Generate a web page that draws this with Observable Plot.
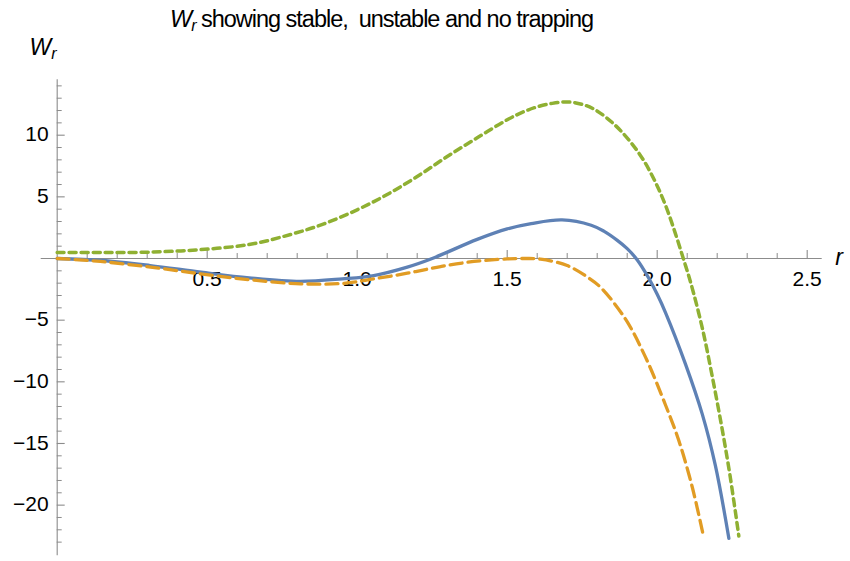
<!DOCTYPE html>
<html>
<head>
<meta charset="utf-8">
<script src="https://cdn.jsdelivr.net/npm/d3@7"></script>
<script src="https://cdn.jsdelivr.net/npm/@observablehq/plot@0.6"></script>
<style>
  body { margin: 0; background: #fff; }
  #wrap { width: 850px; height: 561px; }
  svg text { white-space: pre; }
</style>
</head>
<body>
<div id="wrap"></div>
<script>
// ---- data ----
const rStable = [0, 0.15, 0.31, 0.48, 0.64, 0.81, 0.95, 1.055, 1.167, 1.25, 1.4, 1.5, 1.58, 1.683, 1.78, 1.822, 1.867, 1.9, 1.933, 1.972, 2.0, 2.028, 2.094, 2.15, 2.194, 2.239];
const wStable = [0, -0.16, -0.57, -1.11, -1.57, -1.86, -1.65, -1.38, -0.7, 0.0, 1.55, 2.4, 2.83, 3.13, 2.7, 2.22, 1.47, 0.8, -0.1, -1.6, -2.9, -4.4, -8.54, -12.6, -16.8, -22.7];

const rUnstable = [0, 0.144, 0.311, 0.478, 0.644, 0.811, 0.95, 1.055, 1.167, 1.278, 1.389, 1.5, 1.555, 1.611, 1.7, 1.77, 1.811, 1.894, 1.961, 2.028, 2.072, 2.117, 2.155];
const wUnstable = [0, -0.24, -0.7, -1.24, -1.73, -2.05, -2.02, -1.65, -1.19, -0.65, -0.24, -0.03, 0.0, -0.05, -0.57, -1.55, -2.33, -4.9, -8.0, -11.9, -14.76, -18.55, -22.6];

const rNoTrap = [0, 0.15, 0.31, 0.478, 0.644, 0.778, 0.889, 1.0, 1.1, 1.2, 1.3, 1.4, 1.5, 1.55, 1.6, 1.65, 1.7, 1.75, 1.794, 1.855, 1.911, 1.955, 1.994, 2.028, 2.061, 2.087, 2.111, 2.15, 2.183, 2.217, 2.244, 2.272];
const wNoTrap = [0.48, 0.48, 0.52, 0.72, 1.15, 1.95, 2.81, 3.95, 5.19, 6.65, 8.27, 9.79, 11.25, 11.85, 12.3, 12.58, 12.7, 12.5, 12.05, 10.92, 9.45, 7.95, 6.19, 4.3, 2.0, 0.0, -1.9, -5.6, -9.5, -13.9, -17.8, -22.5];

const xMajorTicks = [0.5, 1.0, 1.5, 2.0, 2.5];
const xMajorLabels = ["0.5", "1.0", "1.5", "2.0", "2.5"];
const xMinorTicks = [0.1, 0.2, 0.3, 0.4, 0.6, 0.7, 0.8, 0.9, 1.1, 1.2, 1.3, 1.4, 1.6, 1.7, 1.8, 1.9, 2.1, 2.2, 2.3, 2.4];
const yMajorTicks = [10, 5, -5, -10, -15, -20];
const yMajorLabels = ["10", "5", "\u22125", "\u221210", "\u221215", "\u221220"];
const yMinorTicks = [14, 13, 12, 11, 9, 8, 7, 6, 4, 3, 2, 1, -1, -2, -3, -4, -6, -7, -8, -9, -11, -12, -13, -14, -16, -17, -18, -19, -21, -22, -23];

const titleMain = "W";
const titleSub = "r";
const titleRest = " showing stable,  unstable and no trapping";
const xLabel = "r";

// ---- build tables ----
const toRows = (rs, ws) => rs.map((r, i) => ({ r, w: ws[i] }));
const stable = toRows(rStable, wStable);
const unstable = toRows(rUnstable, wUnstable);
const noTrap = toRows(rNoTrap, wNoTrap);

const axisColor = "#8c8c8c";
const font = "'Liberation Sans', Arial, sans-serif";

const chart = Plot.plot({
  width: 850,
  height: 561,
  marginLeft: 40.7,
  marginRight: 28.3,
  marginTop: 79.2,
  marginBottom: 5.8,
  x: { domain: [-0.0533, 2.55], axis: null },
  y: { domain: [-24.1, 14.5], axis: null },
  style: { fontFamily: font, background: "white", overflow: "visible" },
  marks: [
    Plot.ruleY([0], { stroke: axisColor, strokeWidth: 1.1 }),
    Plot.ruleX([0], { stroke: axisColor, strokeWidth: 1.1 }),
    Plot.ruleX(xMinorTicks, { x: d => d, y1: 0, y2: 0, insetTop: -5, stroke: axisColor, strokeWidth: 1 }),
    Plot.ruleX(xMajorTicks, { x: d => d, y1: 0, y2: 0, insetTop: -8, stroke: axisColor, strokeWidth: 1.1 }),
    Plot.ruleY(yMinorTicks, { y: d => d, x1: 0, x2: 0, insetRight: -5, stroke: axisColor, strokeWidth: 1 }),
    Plot.ruleY(yMajorTicks, { y: d => d, x1: 0, x2: 0, insetRight: -8, stroke: axisColor, strokeWidth: 1.1 }),
    Plot.text(xMajorTicks, { x: d => d, y: 0, text: (d, i) => xMajorLabels[i], dy: 20.5, fontSize: 21, fill: "black" }),
    Plot.text(yMajorTicks, { x: 0, y: d => d, text: (d, i) => yMajorLabels[i], dx: -8.5, dy: -0.5, textAnchor: "end", fontSize: 21, fill: "black" }),
    Plot.line(stable, { x: "r", y: "w", stroke: "#5E81B5", strokeWidth: 3.3, curve: "catmull-rom" }),
    Plot.line(unstable, { x: "r", y: "w", stroke: "#E19C24", strokeWidth: 3.3, strokeDasharray: "12,6", curve: "catmull-rom" }),
    Plot.line(noTrap, { x: "r", y: "w", stroke: "#8FB032", strokeWidth: 3.5, strokeDasharray: "7,5", curve: "catmull-rom" })
  ]
});

document.getElementById("wrap").appendChild(chart);

const svg = d3.select(chart);

// Title
const t = svg.append("text")
  .attr("x", 381.5).attr("y", 26.5)
  .attr("text-anchor", "middle")
  .attr("font-family", font)
  .attr("font-size", 23.5)
  .attr("fill", "black");
t.append("tspan").attr("font-style", "italic").text(titleMain);
t.append("tspan").attr("font-style", "italic").attr("font-size", 16).attr("dy", 4).text(titleSub);
t.append("tspan").attr("dy", -4).text(titleRest);
// fit the title width to the reference
const targetW = 423;
const bw = t.node().getBBox().width;
const nChars = (titleMain + titleSub + titleRest).length;
t.attr("letter-spacing", ((targetW - bw) / nChars).toFixed(3));

// y-axis label
const yl = svg.append("text")
  .attr("x", 43).attr("y", 55)
  .attr("font-family", font).attr("font-size", 23).attr("fill", "black")
  .attr("font-style", "italic");
yl.append("tspan").text(titleMain);
yl.append("tspan").attr("font-size", 16).attr("dy", 4).text(titleSub);

// x-axis label
svg.append("text")
  .attr("x", 839).attr("y", 265)
  .attr("font-family", font).attr("font-size", 23).attr("fill", "black")
  .attr("font-style", "italic")
  .text(xLabel);
</script>
</body>
</html>
